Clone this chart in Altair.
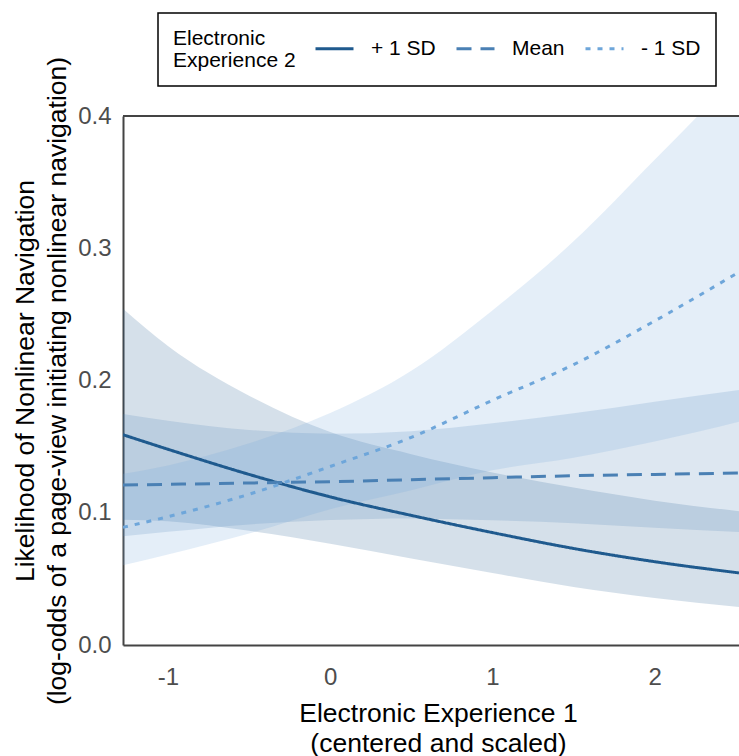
import altair as alt
import pandas as pd

# Electronic Experience 1 (centered and scaled) at which the model was evaluated
x_vals = [-1.277, -1.0, -0.5, 0.0, 0.5, 1.0, 1.5, 2.0, 2.52]

# Predicted likelihood and confidence band per level of Electronic Experience 2
plus_fit = [0.159, 0.148, 0.129, 0.112, 0.098, 0.085, 0.073, 0.063, 0.0545]
plus_lo = [0.0948, 0.0936, 0.0863, 0.0765, 0.0654, 0.0544, 0.0439, 0.0356, 0.0287]
plus_hi = [0.2543, 0.2261, 0.1885, 0.1610, 0.1443, 0.1305, 0.1190, 0.1091, 0.1012]

mean_fit = [0.121, 0.1215, 0.1225, 0.1235, 0.125, 0.1265, 0.128, 0.129, 0.130]
mean_lo = [0.0822, 0.0856, 0.0912, 0.0945, 0.0957, 0.0943, 0.0921, 0.0887, 0.0854]
mean_hi = [0.1746, 0.1696, 0.1626, 0.1598, 0.1617, 0.1676, 0.1752, 0.1840, 0.1929]

minus_fit = [0.089, 0.097, 0.114, 0.135, 0.157, 0.185, 0.212, 0.245, 0.282]
minus_lo = [0.0603, 0.0684, 0.0843, 0.1027, 0.1170, 0.1321, 0.1415, 0.1538, 0.1688]
minus_hi = [0.1294, 0.1358, 0.1525, 0.1754, 0.2074, 0.2530, 0.3052, 0.3669, 0.4318]

series_names = ["+ 1 SD", "Mean", "- 1 SD"]
series_colors = ["#1f5a8e", "#4a80b4", "#6ea6da"]
series_dashes = [[1, 0], [15, 9], [5, 7]]

x_ticks = [-1, 0, 1, 2]
y_ticks = [0.0, 0.1, 0.2, 0.3, 0.4]

rows = []
for name, fit, lo, hi in [
    (series_names[0], plus_fit, plus_lo, plus_hi),
    (series_names[1], mean_fit, mean_lo, mean_hi),
    (series_names[2], minus_fit, minus_lo, minus_hi),
]:
    for xv, f, l, h in zip(x_vals, fit, lo, hi):
        rows.append({"x": xv, "series": name, "fit": f, "lo": l, "hi": h})
df = pd.DataFrame(rows)

W, H = 616, 529
FONT = "Liberation Sans"
AXIS_COLOR = "#444444"

x_scale = alt.Scale(domain=[x_vals[0], x_vals[-1]], nice=False, zero=False)
y_scale = alt.Scale(domain=[0, 0.4], nice=False, zero=False)

x_axis = alt.Axis(
    values=x_ticks,
    labelExpr="'' + datum.value",
    title=["Electronic Experience 1", "(centered and scaled)"],
    titleX=315,
    titlePadding=11,
    titleLineHeight=30,
    labelPadding=20,
    grid=False,
    ticks=False,
    tickSize=0,
)
y_axis = alt.Axis(
    values=y_ticks,
    format=".1f",
    title=[
        "Likelihood of Nonlinear Navigation",
        "(log-odds of a page-view initiating nonlinear navigation)",
    ],
    titlePadding=6,
    titleLineHeight=32,
    labelPadding=12,
    grid=False,
    ticks=False,
    tickSize=0,
)

legend = alt.Legend(
    title=["Electronic", "Experience 2"],
    orient="none",
    legendX=35,
    legendY=-103,
    direction="horizontal",
    titleOrient="left",
    titleAnchor="start",
    titleBaseline="top",
    symbolType="stroke",
    symbolSize=1444,
    symbolStrokeWidth=3,
    labelOffset=16,
    columnPadding=14,
    titlePadding=18,
    padding=15,
    strokeColor="black",
    labelFontSize=21,
    titleFontSize=21,
    titleFontWeight="normal",
    titleLineHeight=22,
    labelColor="black",
    titleColor="black",
    labelFont=FONT,
    titleFont=FONT,
)

base = alt.Chart(df)

# band fills use their own scale (listed bottom-up) so they stay out of the legend
bands = base.mark_area(opacity=0.19, clip=True, interpolate="monotone").encode(
    x=alt.X("x:Q", scale=x_scale, axis=x_axis),
    y=alt.Y("lo:Q", scale=y_scale, axis=y_axis),
    y2="hi:Q",
    fill=alt.Fill(
        "series:N",
        scale=alt.Scale(domain=series_names[::-1], range=series_colors[::-1]),
        legend=None,
    ),
)

lines = base.mark_line(strokeWidth=3, clip=True, interpolate="monotone").encode(
    x=alt.X("x:Q", scale=x_scale),
    y=alt.Y("fit:Q", scale=y_scale),
    stroke=alt.Stroke(
        "series:N",
        scale=alt.Scale(domain=series_names, range=series_colors),
        legend=legend,
    ),
    strokeDash=alt.StrokeDash(
        "series:N",
        scale=alt.Scale(domain=series_names, range=series_dashes),
        legend=legend,
    ),
)

# upper frame line of the panel
top_edge = alt.Chart(pd.DataFrame({"k": [0]})).mark_rule(
    color=AXIS_COLOR, strokeWidth=2
).encode(x=alt.value(0), x2=alt.value(W), y=alt.value(0))

chart = (
    alt.layer(bands, lines, top_edge)
    .properties(
        width=W,
        height=H,
        autosize=alt.AutoSizeParams(type="none"),
        padding={"left": 123, "top": 116, "right": 0, "bottom": 111},
    )
    .configure_view(stroke=None)
    .configure_axis(
        domainColor=AXIS_COLOR,
        domainWidth=2,
        labelFont=FONT,
        titleFont=FONT,
        labelFontSize=24,
        titleFontSize=26.5,
        titleFontWeight="normal",
        labelColor="#4d4d4d",
        titleColor="black",
    )
    .configure_legend(strokeWidth=1.5)
)

chart.save("out.html", embed_options={"renderer": "svg", "actions": False})
